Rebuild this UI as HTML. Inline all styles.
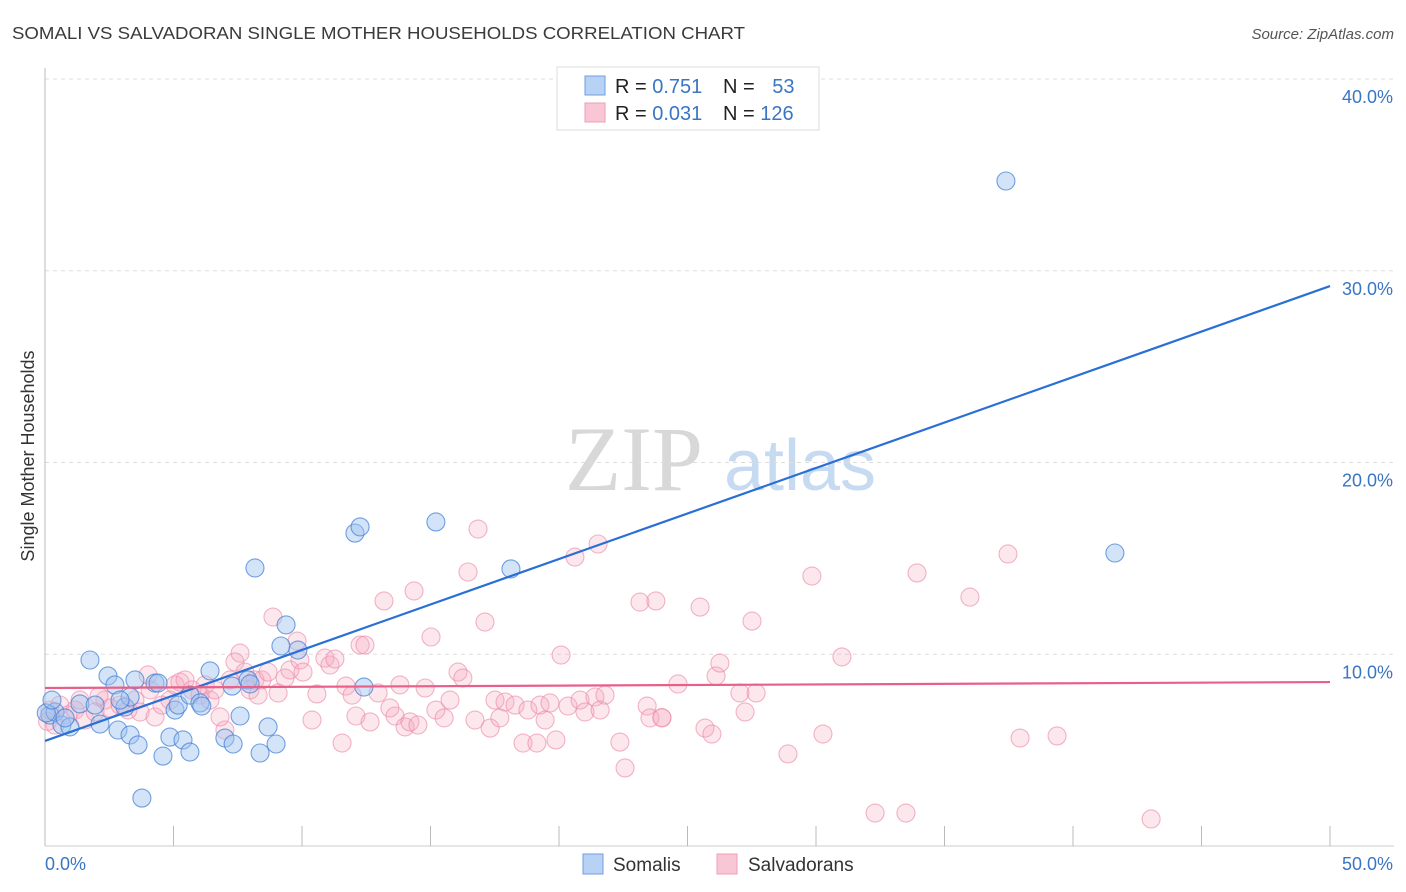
<!DOCTYPE html>
<html><head><meta charset="utf-8"><style>
body{margin:0;background:#fff;font-family:"Liberation Sans",sans-serif}
svg{display:block}
</style></head><body>
<svg id="chart" width="1406" height="892" viewBox="0 0 1406 892" xmlns="http://www.w3.org/2000/svg">
<text x="12" y="39" font-size="17.5" fill="#3a3a3a" textLength="733" lengthAdjust="spacingAndGlyphs" font-family="Liberation Sans, sans-serif">SOMALI VS SALVADORAN SINGLE MOTHER HOUSEHOLDS CORRELATION CHART</text>
<text x="1394" y="39" font-size="15" fill="#555" text-anchor="end" font-style="italic">Source: ZipAtlas.com</text>
<g>
<text x="634" y="490" font-size="92" fill="#d8d8d8" font-family="Liberation Serif, serif" text-anchor="middle">ZIP</text>
<text x="800" y="490" font-size="72" fill="#c6daf2" text-anchor="middle">atlas</text>
</g>
<g id="grid"></g>
<g id="axes"></g>
<g id="pts"></g>
<g id="trends"></g>
<text transform="translate(34,456) rotate(-90)" font-size="18" fill="#333" text-anchor="middle">Single Mother Households</text>
<g>
<rect x="557" y="67" width="262" height="63" fill="#fff" stroke="#ddd"/>
<rect x="585" y="76" width="20" height="19" fill="#b8d2f5" stroke="#6f9ee0"/>
<rect x="585" y="103" width="20" height="19" fill="#f8c6d4" stroke="#ef9fb8"/>
<text x="615" y="93" font-size="20" fill="#222">R = <tspan fill="#3a75c4">0.751</tspan></text>
<text x="723" y="93" font-size="20" fill="#222">N = <tspan fill="#3a75c4" dx="12">53</tspan></text>
<text x="615" y="120" font-size="20" fill="#222">R = <tspan fill="#3a75c4">0.031</tspan></text>
<text x="723" y="120" font-size="20" fill="#222">N = <tspan fill="#3a75c4">126</tspan></text>
</g>
<g>
<rect x="583" y="854" width="20" height="20" fill="#b8d2f5" stroke="#6f9ee0"/>
<text x="613" y="871" font-size="19" fill="#333">Somalis</text>
<rect x="717" y="854" width="20" height="20" fill="#f8c6d4" stroke="#ef9fb8"/>
<text x="748" y="871" font-size="19" fill="#333">Salvadorans</text>
</g>
</svg>
<script>
const yTicks=[10,20,30,40];
const yTickLabels=["10.0%","20.0%","30.0%","40.0%"];
const xTickLabels=["0.0%","50.0%"];
const somaliX=[0.19,0.39,0.66,0.97,1.75,2.14,2.45,2.72,2.84,3.11,3.31,3.50,3.62,4.28,4.40,4.59,4.86,5.06,5.18,5.37,5.64,5.64,6.03,6.42,7.00,7.28,7.32,7.59,7.90,7.98,8.17,8.37,8.68,8.99,9.18,9.38,9.84,12.06,12.26,12.41,15.21,18.13,37.39,41.63,1.36,0.05,3.77,0.78,3.31,1.95,2.92,0.27,6.10];
const somaliY=[6.83,6.99,6.31,6.21,9.70,6.36,8.87,8.40,6.05,7.25,5.79,8.66,5.27,8.50,8.50,4.69,5.68,7.09,7.35,5.53,4.90,7.87,7.46,9.13,5.63,8.34,5.32,6.78,8.66,8.45,14.50,4.85,6.21,5.32,10.43,11.53,10.22,16.32,16.64,8.29,16.90,14.45,34.68,15.28,7.41,6.94,2.50,6.68,7.77,7.35,7.61,7.61,7.30];
const salvX=[0.19,0.39,0.58,0.89,1.17,1.36,1.56,1.95,2.33,2.53,2.92,3.23,3.50,3.70,4.01,4.09,4.28,4.55,4.86,5.06,5.25,5.45,5.72,6.03,6.23,6.42,6.61,6.81,7.00,7.20,7.39,7.59,7.78,7.98,8.17,8.29,8.44,8.68,8.87,9.07,9.34,9.53,9.81,9.92,10.04,10.39,10.58,10.89,11.09,11.28,11.56,11.71,11.95,12.10,12.26,12.45,12.65,12.96,13.19,13.42,13.62,13.81,14.01,14.20,14.36,14.51,14.79,15.02,15.21,15.53,15.76,16.07,16.26,16.46,16.73,16.85,17.12,17.32,17.51,17.70,17.90,18.29,18.60,18.79,19.14,19.26,19.46,19.65,19.88,20.08,20.35,20.62,20.82,21.01,21.40,21.52,21.60,21.79,22.37,22.57,23.15,23.43,23.54,23.77,24.01,24.63,25.49,25.68,25.95,26.11,26.26,27.04,27.24,27.51,27.67,28.91,29.84,30.27,31.01,32.30,33.50,33.93,35.99,37.47,37.94,39.38,43.04,0.10,2.10,24.00];
const salvY=[7.09,6.31,7.35,6.83,7.09,7.61,6.57,6.99,7.61,7.20,7.35,7.09,7.61,6.99,8.92,8.14,6.73,7.35,7.61,8.40,8.55,8.66,8.14,7.87,8.40,7.61,8.14,6.73,6.05,8.66,9.60,10.06,9.07,8.14,8.66,7.87,8.66,9.07,11.94,7.98,8.76,9.18,10.69,9.70,9.07,6.57,7.93,9.80,9.44,9.75,5.37,8.34,7.87,6.78,10.48,10.48,6.47,7.98,12.78,7.20,6.78,8.40,6.21,6.47,13.30,6.31,8.24,10.90,7.09,6.68,7.61,9.07,8.76,14.29,6.57,16.53,11.68,6.15,7.61,6.68,7.51,7.35,5.37,7.09,5.37,7.35,6.57,7.46,5.53,9.96,7.30,15.07,7.61,6.99,7.77,15.75,7.09,7.87,5.42,4.07,12.72,7.30,6.68,12.78,6.68,8.45,12.46,6.15,5.84,8.87,9.54,7.98,6.99,11.73,7.98,4.80,14.08,5.84,9.86,1.72,1.72,14.24,12.98,15.23,5.63,5.74,1.41,6.50,7.80,6.70];
const somaliTrend=[5.48,29.2];
const salvTrend=[8.24,8.55];

const NS="http://www.w3.org/2000/svg";
const X0=45,X1=1330,Y0=846,Y40=79;
const sx=v=>X0+(v/50)*(X1-X0);
const sy=v=>Y0-(v/40)*(Y0-Y40);
function mk(tag,attrs,parent){const e=document.createElementNS(NS,tag);for(const k in attrs)e.setAttribute(k,attrs[k]);parent.appendChild(e);return e;}
const grid=document.getElementById('grid'),axes=document.getElementById('axes'),pts=document.getElementById('pts'),tr=document.getElementById('trends');
yTicks.forEach((t,i)=>{
 const l=mk('line',{x1:X0,x2:1394,y1:sy(t),y2:sy(t),stroke:'#ddd','stroke-dasharray':'4,4'},grid);
 
 
 const tx=mk('text',{x:1393,y:sy(t)+24,'font-size':18,fill:'#3a75c4','text-anchor':'end'},grid);
 tx.textContent=yTickLabels[i];
 
 
});
const ya=mk('line',{x1:X0,x2:X0,y1:68,y2:Y0,stroke:'#bbb'},axes);


const xa=mk('line',{x1:X0,x2:1394,y1:Y0,y2:Y0,stroke:'#ccc'},axes);


for(let v=5;v<=50;v+=5){
 const t=mk('line',{x1:sx(v),x2:sx(v),y1:Y0-20,y2:Y0,stroke:'#bbb'},axes);
 
 
}
[[0,'start',45],[50,'end',1393]].forEach((d,i)=>{
 const tx=mk('text',{x:d[2],y:870,'font-size':18,fill:'#3a75c4','text-anchor':d[1]},axes);
 tx.textContent=xTickLabels[i];
 
 
});
salvX.forEach((x,i)=>{
 const c=mk('circle',{cx:sx(x),cy:sy(salvY[i]),r:9,fill:'rgba(244,168,190,0.28)',stroke:'rgba(236,140,170,0.65)','stroke-width':1.1},pts);
 
 
});
somaliX.forEach((x,i)=>{
 const c=mk('circle',{cx:sx(x),cy:sy(somaliY[i]),r:9,fill:'rgba(160,196,240,0.45)',stroke:'rgba(70,130,215,0.75)','stroke-width':1.1},pts);
 
 
});
const lb=mk('line',{x1:sx(0),y1:sy(somaliTrend[0]),x2:sx(50),y2:sy(somaliTrend[1]),stroke:'#2a6fd6','stroke-width':2.2},tr);


const lp=mk('line',{x1:sx(0),y1:sy(salvTrend[0]),x2:sx(50),y2:sy(salvTrend[1]),stroke:'#e8608a','stroke-width':2.2},tr);


</script>
</body></html>
